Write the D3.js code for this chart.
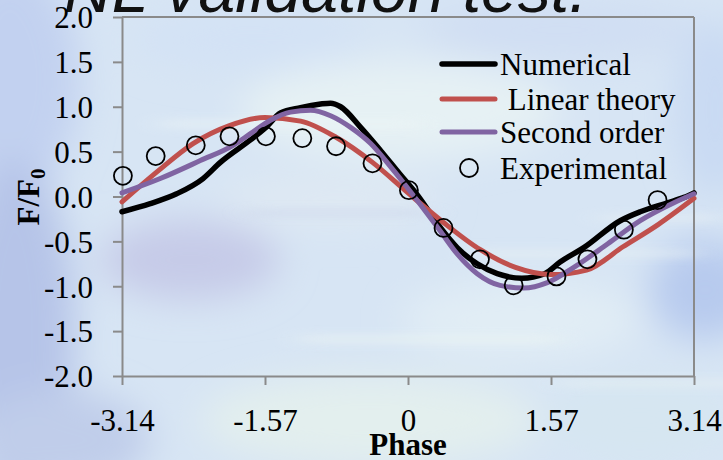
<!DOCTYPE html>
<html>
<head>
<meta charset="utf-8">
<script src="https://cdn.jsdelivr.net/npm/d3@7/dist/d3.min.js"></script>
<style>
  html, body { margin: 0; padding: 0; background: #d8e6f4; }
  svg { display: block; }
</style>
</head>
<body>
<svg id="chart" width="723" height="460"></svg>
<script>
// Phase axis and force-ratio ticks
const xTickValues = [-3.14, -1.57, 0, 1.57, 3.14];
const xTickLabels = ["-3.14", "-1.57", "0", "1.57", "3.14"];
const yTickValues = [-2.0, -1.5, -1.0, -0.5, 0.0, 0.5, 1.0, 1.5, 2.0];

// Numerical simulation (phase, F/F0)
const numericalPhase = [-3.14, -2.83, -2.54, -2.25, -2.06, -1.73, -1.57, -1.40, -1.18, -0.96, -0.85, -0.74, -0.52, -0.30, -0.09, 0.10, 0.35, 0.54, 0.76, 0.98, 1.25, 1.50, 1.67, 1.93, 2.33, 2.55, 2.85, 3.03, 3.14];
const numericalValue = [-0.17, -0.08, 0.03, 0.20, 0.38, 0.63, 0.76, 0.93, 0.99, 1.03, 1.04, 1.00, 0.77, 0.51, 0.25, 0.02, -0.34, -0.57, -0.75, -0.86, -0.91, -0.86, -0.73, -0.57, -0.27, -0.17, -0.07, -0.01, 0.04];

// Linear theory
const linearPhase = [-3.14, -2.75, -2.36, -1.96, -1.57, -1.18, -0.79, -0.39, 0.00, 0.39, 0.79, 1.18, 1.57, 1.96, 2.36, 2.75, 3.14];
const linearValue = [-0.06, 0.28, 0.59, 0.79, 0.88, 0.84, 0.66, 0.38, 0.04, -0.29, -0.59, -0.79, -0.87, -0.82, -0.56, -0.31, -0.02];

// Second-order theory
const secondPhase = [-3.14, -2.72, -2.28, -1.92, -1.73, -1.51, -1.29, -1.07, -0.85, -0.63, -0.41, -0.19, 0.03, 0.35, 0.54, 0.76, 1.01, 1.27, 1.53, 1.82, 2.19, 2.55, 2.92, 3.14];
const secondValue = [0.04, 0.20, 0.40, 0.57, 0.70, 0.85, 0.94, 0.96, 0.90, 0.77, 0.59, 0.33, 0.05, -0.38, -0.64, -0.86, -0.99, -1.02, -0.96, -0.79, -0.53, -0.27, -0.07, 0.03];

// Experimental measurements
const expPhase = [-3.13, -2.77, -2.33, -1.96, -1.56, -1.16, -0.79, -0.39, 0.01, 0.39, 0.79, 1.16, 1.63, 1.97, 2.37, 2.74];
const expValue = [0.23, 0.45, 0.57, 0.67, 0.67, 0.65, 0.56, 0.37, 0.07, -0.35, -0.70, -0.99, -0.89, -0.70, -0.37, -0.04];

const seriesNames = ["Numerical", " Linear theory", "Second order", "Experimental"];
const seriesColors = ["#000000", "#c0504d", "#8064a2"];

const svg = d3.select("#chart");
const W = 723, H = 460;

// ---- watery background ----
const defs = svg.append("defs");
const blur = defs.append("filter").attr("id", "soft")
  .attr("x", "-50%").attr("y", "-50%").attr("width", "200%").attr("height", "200%");
blur.append("feGaussianBlur").attr("stdDeviation", 18);
const blur2 = defs.append("filter").attr("id", "streak")
  .attr("x", "-50%").attr("y", "-50%").attr("width", "200%").attr("height", "200%");
blur2.append("feGaussianBlur").attr("stdDeviation", "14 4");

svg.append("rect").attr("width", W).attr("height", H).attr("fill", "#d7e5f4");
const bg = svg.append("g").attr("filter", "url(#soft)");
const blobs = [
  [10, 80, 70, 120, "#c2d1f0"],
  [15, 330, 60, 170, "#b6c4e8"],
  [60, 440, 90, 50, "#c0cdea"],
  [190, 260, 90, 40, "#c6cbe8"],
  [400, 110, 160, 50, "#e6f1f4"],
  [330, 200, 110, 25, "#dfe9f3"],
  [370, 420, 170, 45, "#e3efee"],
  [520, 320, 120, 40, "#e1edf5"],
  [560, 30, 140, 30, "#d0def3"],
  [715, 110, 40, 90, "#c9daf3"],
  [705, 290, 55, 50, "#b7caee"],
  [640, 420, 90, 40, "#d6e6f1"],
  [250, 40, 120, 30, "#d3e2f5"]
];
bg.selectAll("ellipse").data(blobs).join("ellipse")
  .attr("cx", d => d[0]).attr("cy", d => d[1])
  .attr("rx", d => d[2]).attr("ry", d => d[3])
  .attr("fill", d => d[4]);
const streaks = svg.append("g").attr("filter", "url(#streak)").attr("opacity", 0.55);
const streakData = [
  [160, 120, 260, 8, "#eef6f6"], [470, 250, 230, 7, "#eaf3f4"], [300, 335, 260, 8, "#eef6f3"],
  [560, 380, 200, 7, "#e9f2f3"], [250, 210, 180, 6, "#c9d3ea"], [600, 215, 120, 6, "#eef5f5"]
];
streaks.selectAll("rect").data(streakData).join("rect")
  .attr("x", d => d[0]).attr("y", d => d[1])
  .attr("width", d => d[2]).attr("height", d => d[3])
  .attr("fill", d => d[4]);

// ---- title (runs off the top edge) ----
svg.append("text")
  .attr("x", 64).attr("y", 12)
  .attr("font-family", "Liberation Sans, Arial, sans-serif")
  .attr("font-style", "italic")
  .attr("font-size", 66)
  .attr("fill", "#111")
  .text("NL validation test.");

// ---- scales ----
const x = d3.scaleLinear().domain([-3.14, 3.14]).range([122, 694]);
const y = d3.scaleLinear().domain([-2, 2]).range([376, 17]);

const axisColor = "#8a8a8a";
const font = "Liberation Serif, 'Times New Roman', serif";

// plot frame (top and right)
svg.append("line").attr("x1", x(-3.14)).attr("x2", x(3.14)).attr("y1", y(2)).attr("y2", y(2))
  .attr("stroke", axisColor).attr("stroke-width", 2);
svg.append("line").attr("x1", x(3.14)).attr("x2", x(3.14)).attr("y1", y(2)).attr("y2", y(-2))
  .attr("stroke", axisColor).attr("stroke-width", 2);

// y axis
const yAxis = svg.append("g").attr("transform", `translate(${x(-3.14)},0)`)
  .call(d3.axisLeft(y).tickValues(yTickValues).tickFormat(d => d.toFixed(1))
    .tickSize(9).tickSizeOuter(0).tickPadding(20));
// x axis
const xAxis = svg.append("g").attr("transform", `translate(0,${y(-2)})`)
  .call(d3.axisBottom(x).tickValues(xTickValues).tickFormat((d, i) => xTickLabels[i])
    .tickSize(9).tickSizeOuter(0));

[yAxis, xAxis].forEach(g => {
  g.select(".domain").attr("stroke", axisColor).attr("stroke-width", 2);
  g.selectAll(".tick line").attr("stroke", axisColor).attr("stroke-width", 2);
  g.selectAll(".tick text").attr("fill", "#000").attr("font-family", font).attr("font-size", 31);
});
yAxis.selectAll(".tick text").attr("dy", "0.35em");
xAxis.selectAll(".tick text").attr("dy", null).attr("y", 55);

// axis titles
svg.append("text")
  .attr("x", x(0)).attr("y", 455)
  .attr("text-anchor", "middle")
  .attr("font-family", font).attr("font-weight", "bold").attr("font-size", 31)
  .text("Phase");

const yTitle = svg.append("text")
  .attr("transform", "translate(39,197) rotate(-90)")
  .attr("text-anchor", "middle")
  .attr("font-family", font).attr("font-weight", "bold").attr("font-size", 31);
yTitle.append("tspan").text("F/F");
yTitle.append("tspan").attr("font-size", 21).attr("dy", 6).text("0");

// ---- series ----
const line = d3.line().x(d => x(d[0])).y(d => y(d[1])).curve(d3.curveMonotoneX);
const numerical = numericalPhase.map((p, i) => [p, numericalValue[i]]);
const linear = linearPhase.map((p, i) => [p, linearValue[i]]);
const second = secondPhase.map((p, i) => [p, secondValue[i]]);
const experimental = expPhase.map((p, i) => [p, expValue[i]]);

[[numerical, 0, 5.5], [linear, 1, 5], [second, 2, 5]].forEach(([data, k, w]) => {
  svg.append("path").datum(data)
    .attr("d", line)
    .attr("fill", "none")
    .attr("stroke", seriesColors[k])
    .attr("stroke-width", w)
    .attr("stroke-linecap", "round")
    .attr("stroke-linejoin", "round");
});

svg.append("g").selectAll("circle").data(experimental).join("circle")
  .attr("cx", d => x(d[0])).attr("cy", d => y(d[1])).attr("r", 9)
  .attr("fill", "none").attr("stroke", "#000").attr("stroke-width", 1.8);

// ---- legend ----
const legend = svg.append("g");
const legendRows = [64, 99, 132, 168];
seriesNames.forEach((name, i) => {
  const cy = legendRows[i];
  if (i < 3) {
    legend.append("line").attr("x1", 442).attr("x2", 495).attr("y1", cy).attr("y2", cy)
      .attr("stroke", seriesColors[i]).attr("stroke-width", i === 0 ? 5.5 : 5)
      .attr("stroke-linecap", "round");
  } else {
    legend.append("circle").attr("cx", 469).attr("cy", cy).attr("r", 9)
      .attr("fill", "none").attr("stroke", "#000").attr("stroke-width", 1.8);
  }
  legend.append("text")
    .attr("x", 500).attr("y", cy + 10.5)
    .attr("font-family", font).attr("font-size", 31)
    .attr("xml:space", "preserve")
    .style("white-space", "pre")
    .text(name);
});
</script>
</body>
</html>
